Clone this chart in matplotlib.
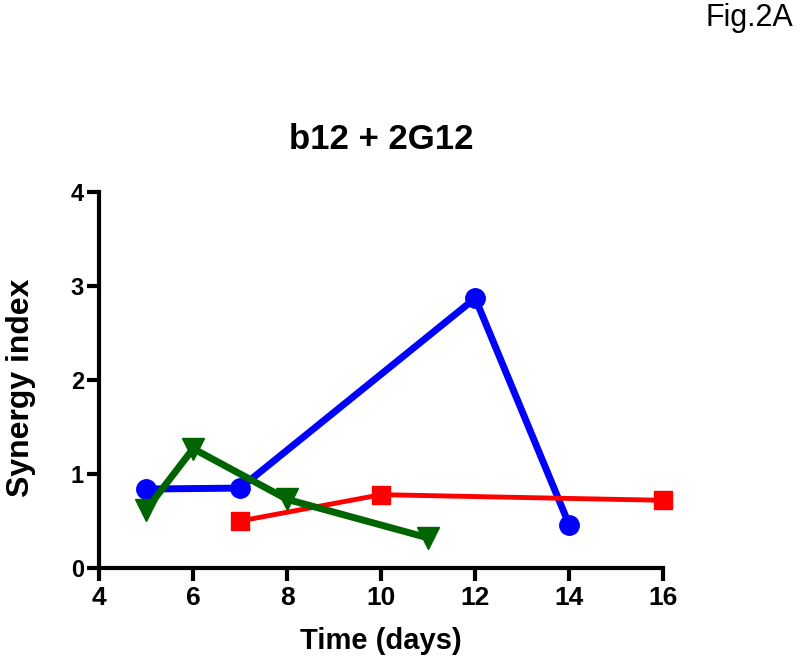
import matplotlib
matplotlib.use('Agg')
import matplotlib.pyplot as plt

plt.rcParams['font.family'] = ['Liberation Sans', 'DejaVu Sans']

# Daten
blue_days = [5, 7, 12, 14]
blue_si = [0.84, 0.85, 2.87, 0.46]
red_days = [7, 10, 16]
red_si = [0.50, 0.78, 0.72]
green_days = [5, 6, 8, 11]
green_si = [0.62, 1.27, 0.73, 0.32]

fig = plt.figure(figsize=(8, 6.62), dpi=100)
ax = fig.add_axes([0.124, 0.142, 0.705, 0.568])

ax.plot(blue_days, blue_si, color='#0000ff', lw=5, marker='o', ms=14, clip_on=False, zorder=3)
ax.plot(red_days, red_si, color='#ff0000', lw=3.5, marker='s', ms=13, clip_on=False, zorder=3)
ax.plot(green_days, green_si, color='#006400', lw=5, marker='v', ms=16, clip_on=False, zorder=4)

ax.set_xlim(4, 16)
ax.set_ylim(0, 4)
ax.set_xticks([4, 6, 8, 10, 12, 14, 16])
ax.set_yticks([0, 1, 2, 3, 4])

for s in ['top', 'right']:
    ax.spines[s].set_visible(False)
for s in ['left', 'bottom']:
    ax.spines[s].set_linewidth(3)
ax.tick_params(axis='x', width=3, length=9, labelsize=19, pad=4)
ax.tick_params(axis='y', width=3, length=9, labelsize=17, pad=2)
for lab in ax.get_xticklabels() + ax.get_yticklabels():
    lab.set_fontweight('bold')

ax.set_xlabel('Time (days)', fontsize=21, fontweight='bold')
ax.xaxis.set_label_coords(0.5, -0.158)
ax.set_ylabel('Synergy index', fontsize=23, fontweight='bold')
ax.yaxis.set_label_coords(-0.112, 0.48)
ax.set_title('b12 + 2G12', fontsize=25, fontweight='bold', pad=31)

fig.text(0.991, 0.995, 'Fig.2A', ha='right', va='top', fontsize=22)

fig.savefig('out.png', dpi=100)
